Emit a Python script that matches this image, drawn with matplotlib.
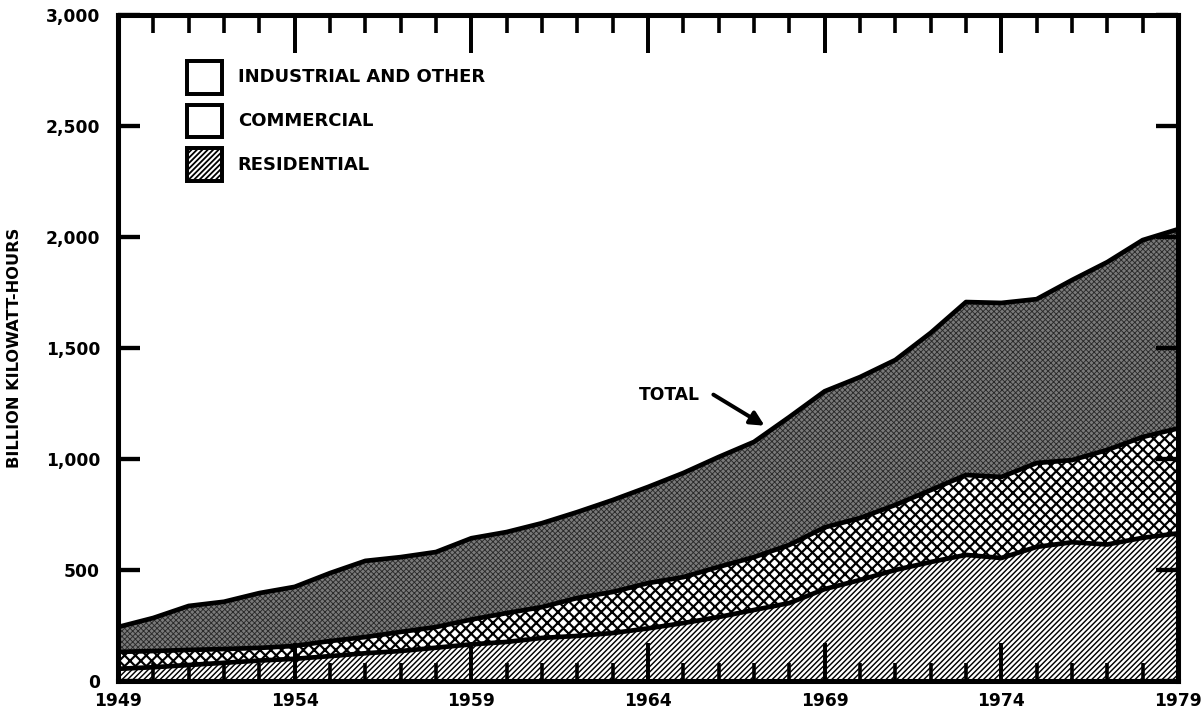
import matplotlib
matplotlib.use("Agg")
import matplotlib.pyplot as plt
from matplotlib.patches import Rectangle
from matplotlib.ticker import FuncFormatter
import numpy as np

plt.rcParams['font.family'] = ['DejaVu Sans']

# values, billion kWh
years = list(range(1949, 1980))
residential = [55, 62, 72, 82, 92, 100, 112, 125, 135, 150, 165, 176, 194, 203, 216,
               237, 261, 288, 320, 351, 414, 455, 500, 536, 568, 554, 604, 625, 615, 645, 665]
commercial = [76, 73, 68, 62, 57, 58, 68, 73, 86, 93, 112, 130, 139, 171, 185,
              204, 207, 226, 238, 262, 278, 279, 293, 324, 360, 365, 378, 370, 426, 454, 473]
industrial = [112, 149, 198, 213, 247, 266, 306, 343, 337, 338, 366, 365, 378, 387, 414,
              433, 469, 495, 519, 576, 613, 635, 653, 708, 779, 784, 738, 811, 846, 887, 897]
legend_labels = ["INDUSTRIAL AND OTHER", "COMMERCIAL", "RESIDENTIAL"]
y_ticks = [0, 500, 1000, 1500, 2000, 2500, 3000]
x_labels = [1949, 1954, 1959, 1964, 1969, 1974, 1979]

res = np.array(residential)
com_top = res + np.array(commercial)
total = com_top + np.array(industrial)

DPI = 130
fig = plt.figure(figsize=(1203 / DPI, 719 / DPI), dpi=DPI)
ax = fig.add_axes([118 / 1203, 1 - 681 / 719, 1060 / 1203, 666 / 719])

# residential: fine diagonal hatch
plt.rcParams['hatch.linewidth'] = 0.8
ax.fill_between(years, 0, res, facecolor='white', edgecolor='black',
                hatch='////////', linewidth=0)
# commercial: cross hatch
plt.rcParams['hatch.linewidth'] = 1.2
ax.fill_between(years, res, com_top, facecolor='white', edgecolor='black',
                hatch='xxxx', linewidth=0)
# industrial and other: dark stipple
plt.rcParams['hatch.linewidth'] = 0.5
ax.fill_between(years, com_top, total, facecolor='#7a7a7a', edgecolor='#2a2a2a',
                hatch='xxxxxxxx', linewidth=0)

for top in (res, com_top, total):
    ax.plot(years, top, color='black', lw=2.6, solid_joinstyle='round')

ax.set_xlim(1949, 1979)
ax.set_ylim(0, 3000)

ax.set_yticks(y_ticks)
ax.yaxis.set_major_formatter(FuncFormatter(lambda v, p: f"{int(v):,}"))
ax.set_xticks(x_labels)
ax.set_xticks(years, minor=True)

ax.tick_params(axis='y', which='major', direction='in', length=12, width=2.4,
               left=True, right=True, labelsize=9.5, pad=10)
ax.tick_params(axis='x', which='major', direction='in', length=21, width=2.2,
               top=True, bottom=True, labelsize=9.5, pad=6)
ax.tick_params(axis='x', which='minor', direction='in', length=10, width=2.0,
               top=True, bottom=True)
for lab in ax.get_xticklabels() + ax.get_yticklabels():
    lab.set_fontweight('bold')

for s in ax.spines.values():
    s.set_linewidth(2.8)

ax.set_ylabel("BILLION KILOWATT-HOURS", fontsize=9, fontweight='bold')
ax.yaxis.set_label_coords(-0.0905, 0.5)

# legend drawn as boxes and text, like the original
box_hatch = [None, None, '////////']
for i, (lab, h) in enumerate(zip(legend_labels, box_hatch)):
    yb = 0.882 - i * 0.0655
    plt.rcParams['hatch.linewidth'] = 1.0
    ax.add_patch(Rectangle((0.065, yb), 0.033, 0.049, transform=ax.transAxes,
                           facecolor='white', edgecolor='black', lw=2.2,
                           hatch=h, zorder=5))
    ax.text(0.113, yb + 0.0245, lab, transform=ax.transAxes, fontsize=10,
            fontweight='bold', va='center', ha='left', zorder=5)

ax.text(1964.6, 1290, "TOTAL", fontsize=9.5, fontweight='bold',
        ha='center', va='center')
ax.annotate("", xy=(1967.3, 1150), xytext=(1965.85, 1290),
            arrowprops=dict(arrowstyle='-|>', color='black', lw=2.2,
                            mutation_scale=16, shrinkA=0, shrinkB=0))

fig.savefig("out.png", dpi=DPI)
